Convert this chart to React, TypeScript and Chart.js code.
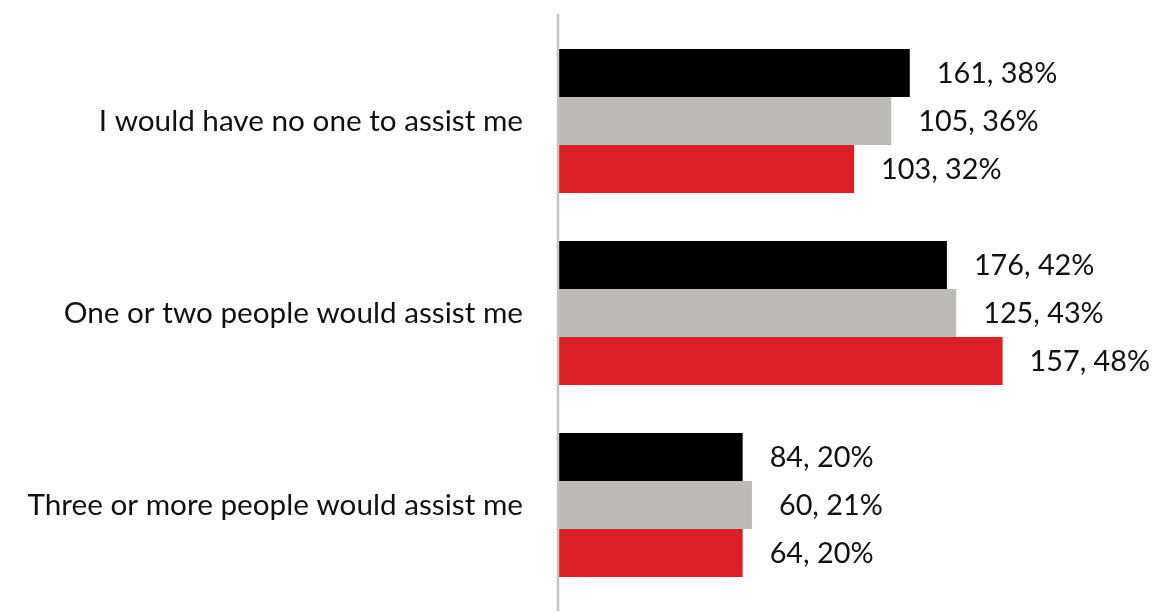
import React, { useEffect, useRef } from "react";
import { Chart, registerables } from "chart.js";

Chart.register(...registerables);

const categories = [
  "I would have no one to assist me",
  "One or two people would assist me",
  "Three or more people would assist me",
];

const seriesNames = ["Group 1", "Group 2", "Group 3"];
const seriesColors = ["#000000", "#bdbbb8", "#da1f26"];

const pctBlack = [38, 42, 20];
const pctGray = [36, 43, 21];
const pctRed = [32, 48, 20];

const countBlack = [161, 176, 84];
const countGray = [105, 125, 60];
const countRed = [103, 157, 64];

const pctSeries = [pctBlack, pctGray, pctRed];
const countSeries = [countBlack, countGray, countRed];

const FONT = "Lato, 'Noto Sans', sans-serif";

export default function App() {
  const canvasRef = useRef<HTMLCanvasElement | null>(null);

  useEffect(() => {
    if (!canvasRef.current) return;

    const valueLabels = {
      id: "valueLabels",
      afterDatasetsDraw(chart: any) {
        const ctx = chart.ctx;
        ctx.save();
        ctx.font = `28.8px ${FONT}`;
        ctx.fillStyle = "#111111";
        ctx.textAlign = "left";
        ctx.textBaseline = "middle";
        chart.data.datasets.forEach((ds: any, di: number) => {
          const meta = chart.getDatasetMeta(di);
          meta.data.forEach((el: any, i: number) => {
            const txt = `${countSeries[di][i]}, ${pctSeries[di][i]}%`;
            ctx.fillText(txt, el.x + 27, el.y + 1);
          });
        });
        ctx.restore();
      },
    };

    const axisLine = {
      id: "axisLine",
      afterDraw(chart: any) {
        const ctx = chart.ctx;
        const a = chart.chartArea;
        ctx.save();
        ctx.strokeStyle = "#c4c4c4";
        ctx.lineWidth = 2.5;
        ctx.beginPath();
        ctx.moveTo(a.left + 1, a.top - 11);
        ctx.lineTo(a.left + 1, a.bottom + 10);
        ctx.stroke();
        ctx.restore();
      },
    };

    const chart = new Chart(canvasRef.current, {
      type: "bar",
      data: {
        labels: categories,
        datasets: pctSeries.map((d, i) => ({
          label: seriesNames[i],
          data: d,
          backgroundColor: seriesColors[i],
          borderWidth: 0,
          barPercentage: 1,
          categoryPercentage: 0.75,
        })),
      },
      options: {
        indexAxis: "y",
        animation: false,
        responsive: true,
        maintainAspectRatio: false,
        layout: { padding: { top: 25, bottom: 13, left: 0, right: 47 } },
        plugins: {
          legend: { display: false },
          tooltip: { enabled: false },
        },
        scales: {
          x: {
            display: false,
            min: 0,
            max: 60,
          },
          y: {
            grid: { display: false, drawTicks: false },
            border: { display: false },
            ticks: {
              color: "#111111",
              font: { family: FONT, size: 29.7 },
              padding: 34,
            },
            afterFit(scale: any) {
              scale.width = 557;
              scale.paddingTop = 0;
              scale.paddingBottom = 0;
            },
          },
        },
      },
      plugins: [valueLabels, axisLine],
    });

    return () => chart.destroy();
  }, []);

  return (
    <div
      style={{
        position: "fixed",
        left: 0,
        top: 0,
        width: 1161,
        height: 614,
        background: "#ffffff",
      }}
    >
      <canvas ref={canvasRef} />
    </div>
  );
}
